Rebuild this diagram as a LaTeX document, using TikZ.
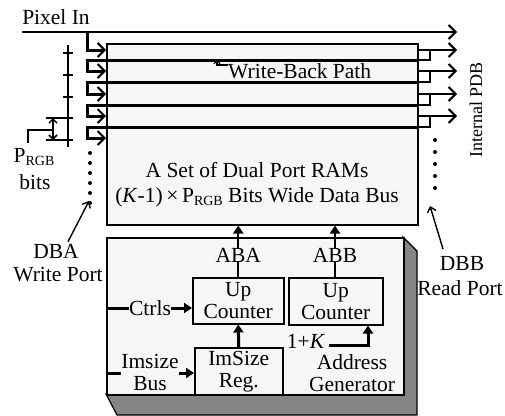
\documentclass[tikz,border=0pt]{standalone}
\usepackage{fontspec}
\setmainfont{Liberation Serif}
\usetikzlibrary{arrows.meta}
\newcommand{\Prgb}{P\raisebox{-0.3ex}{\fontsize{14}{14}\selectfont RGB}}

\begin{document}
\begin{tikzpicture}[x=1pt,y=-1pt,
  lbl/.style={font=\fontsize{21.5}{22}\selectfont, inner sep=0pt, align=center},
  box/.style={draw, line width=1.5pt, fill=gray!7, inner sep=0pt, anchor=north west},
  bus/.style={line width=3pt},
  wire/.style={line width=1.8pt},
  barb/.style={-{Straight Barb[length=7pt,width=14pt,line width=2pt]}},
  smallbarb/.style={{Straight Barb[length=4pt,width=8pt,line width=1.5pt]}-{Straight Barb[length=4pt,width=8pt,line width=1.5pt]}},
  tip/.style={-{Triangle[length=8pt,width=10pt]}},
]
\useasboundingbox (0,0) rectangle (505,415);

% ---------- dual port RAM stack ----------
\node[box, minimum width=311pt, minimum height=181pt] (ram) at (106,43) {};
\node[lbl, font=\fontsize{21.5}{25}\selectfont] (ramtxt) at (257,185) {A Set of Dual Port RAMs\\(\textit{K}-1)\,×\,\Prgb{} Bits Wide Data Bus};

% pixel input bus
\node[lbl] (pixin) at (56,17) {Pixel In};
\coordinate (pinL) at (22,32);
\coordinate (pinR) at (457,32);
\coordinate (tap) at (87,32);
\draw[wire, barb] (pinL) -- (pinR);
\draw[bus, barb] (tap) |- (ram.west |- 0,50);

% write-back lines between rows, looping into the next row on the left
\foreach \d/\e in {60/71, 82/94, 105/116, 127/138} {
  \draw[bus] (ram.west |- 0,\d) -- (ram.east |- 0,\d);
  \draw[bus, barb] (ram.west |- 0,\d) -- (tap |- 0,\d) -- (tap |- 0,\e) -- (ram.west |- 0,\e);
}
% row outputs on the right, with the branch back into the write-back line
\foreach \e/\d in {50/60, 71/82, 94/105, 116/127} {
  \draw[wire, barb] (ram.east |- 0,\e) -- (pinR |- 0,\e);
  \draw[wire] (430,\e) |- (ram.east |- 0,\d);
}

% write-back label
\node[lbl, anchor=west] (wb) at (228,71) {Write-Back Path};
\draw[line width=1.2pt, -{Straight Barb[length=3pt,width=6pt,line width=1.2pt]}] (wb.west |- 0,65) -- (217,65) -- (217,60);

\node[lbl, font=\fontsize{18}{18}\selectfont, rotate=90] (pdb) at (476,110) {Internal PDB};

% bit ticks and P_RGB dimension
\draw[wire] (68,45) -- (68,147);
\foreach \y in {53,75,97,118,140} \draw[wire] (63,\y) -- (73,\y);
\draw[wire] (46,118) -- (68,118);
\draw[wire] (46,140) -- (68,140);
\coordinate (dimT) at (53,118);
\coordinate (dimB) at (53,140);
\draw[line width=1.5pt, smallbarb] (dimT) -- (dimB);
\coordinate (lead) at (28,130);
\draw[line width=1.5pt] (53,130) -- (lead) -- (28,143);
\node[lbl] (prgb) at (34,157) {\Prgb};
\node[lbl] (bits) at (35,182) {bits};

% continuation dots
\foreach \y in {153,163,...,203} \fill (90,\y) circle (2pt);
\foreach \y in {140,152,...,188} \fill (435,\y) circle (2pt);

% ports
\node[lbl] (dba) at (56,251) {DBA};
\node[lbl] (wport) at (58,275) {Write Port};
\coordinate (dbaend) at (89,201);
\draw[line width=1.4pt, -{Straight Barb[length=5pt,width=9pt,line width=1.4pt]}] (dba.north -| 68,0) ++(0,-2) -- (dbaend);
\node[lbl] (dbb) at (462,263) {DBB};
\node[lbl] (rport) at (460,288) {Read Port};
\coordinate (dbbend) at (430,206);
\draw[line width=1.4pt, -{Straight Barb[length=5pt,width=9pt,line width=1.4pt]}] (443,249) -- (dbbend);

% ---------- address generator ----------
\filldraw[fill=black!48, line width=1.2pt] (106,394) -- (117,415) -- (417,415) -- (417,251) -- (403,237) -- (403,394) -- cycle;
\node[box, minimum width=297pt, minimum height=157pt] (addr) at (106,237) {};

\node[box, lbl, minimum width=91pt, minimum height=46pt] (cntA) at (192,277) {Up\\Counter};
\node[box, lbl, minimum width=94pt, minimum height=47pt] (cntB) at (288,277) {Up\\Counter};
\node[box, lbl, minimum width=88pt, minimum height=47pt] (reg) at (194,347) {ImSize\\Reg.};

\node[lbl] (aba) at (cntA.north |- 0,255) {ABA};
\node[lbl] (abb) at (335,255) {ABB};
\draw[wire] (cntA.north) -- (aba.south);
\draw[wire, tip] (aba.north) -- (aba.north |- ram.south);
\draw[wire] (cntB.north -| abb) -- (abb.south);
\draw[wire, tip] (abb.north) -- (abb.north |- ram.south);

\draw[bus, tip] (reg.north) -- (cntA.south);

\node[lbl] (ctrls) at (150,308) {Ctrls};
\draw[bus] (addr.west |- ctrls) -- (ctrls.west);
\draw[bus, tip] (ctrls.east) -- (cntA.west |- ctrls);

\node[lbl] (ibus) at (150,372) {Imsize\\Bus};
\draw[bus] (addr.west |- 0,373) -- (ibus.west |- 0,373);
\draw[bus, tip] (ibus.east |- 0,373) -- (reg.west |- 0,373);

\node[lbl] (onek) at (306,341) {1+\textit{K}};
\coordinate (kbend) at (368,345);
\draw[bus, tip] (onek.east |- kbend) ++(4,0) -- (kbend) -- (kbend |- cntB.south);

\node[lbl] (agen) at (352,373) {Address\\Generator};
\end{tikzpicture}
\end{document}
